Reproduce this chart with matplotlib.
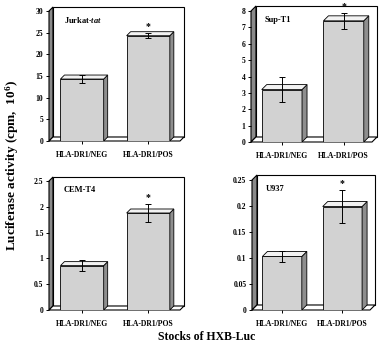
import numpy as np
import matplotlib
matplotlib.use("Agg")
import matplotlib.pyplot as plt
from matplotlib.patches import Polygon
from matplotlib.ticker import FormatStrFormatter

plt.rcParams['font.family'] = ['Liberation Serif', 'DejaVu Serif']
plt.rcParams['font.weight'] = 'bold'
plt.rcParams['mathtext.fontset'] = 'custom'
plt.rcParams['mathtext.rm'] = 'Liberation Serif:bold'
plt.rcParams['mathtext.it'] = 'Liberation Serif:italic:bold'
plt.rcParams['mathtext.bf'] = 'Liberation Serif:bold'

# data
categories = ['HLA-DR1/NEG', 'HLA-DR1/POS']
cell_lines = ['Jurkat-$\\mathit{tat}$', 'Sup-T1', 'CEM-T4', 'U937']
jurkat_vals = [14.3, 24.3]
jurkat_err = [0.9, 0.6]
supt1_vals = [3.2, 7.4]
supt1_err = [0.75, 0.5]
cemt4_vals = [0.86, 1.88]
cemt4_err = [0.11, 0.18]
u937_vals = [0.103, 0.199]
u937_err = [0.010, 0.032]
y_tops = [30, 8, 2.5, 0.25]
y_steps = [5, 1, 0.5, 0.05]

W, H = 391, 348
fig = plt.figure(figsize=(W / 100, H / 100), dpi=100)

# panel geometry in pixels: front-left x, back-right x, zero y, top y, top tick y, depth
panels = [
    (49, 184, 141, 6, 11, 4),
    (251, 377, 142, 6, 11, 5),
    (49, 184, 310, 177, 181, 4),
    (252, 375, 310, 176, 180, 5),
]
values = [jurkat_vals, supt1_vals, cemt4_vals, u937_vals]
errors = [jurkat_err, supt1_err, cemt4_err, u937_err]

centers = np.array([0.245, 0.735])
width = 0.32


def draw_panel(geom, vals, errs, ytop, ystep, name):
    L, R, Z, T, Yt, d = geom
    ax = fig.add_axes([L / W, (H - Z) / H, (R - L) / W, (Z - T) / H])
    ymax = ytop * (Z - T) / (Z - Yt)
    ax.set_xlim(0, 1)
    ax.set_ylim(0, ymax)
    dx = d / (R - L)
    dy = d * ytop / (Z - Yt)
    for s in ax.spines.values():
        s.set_visible(False)
    ax.set_facecolor('none')

    # left wall
    ax.add_patch(Polygon([(0, 0), (dx, dy), (dx, ytop + dy), (0, ytop)],
                         closed=True, facecolor='#8a8a8a', edgecolor='black',
                         lw=0.8, clip_on=False))
    # back wall
    ax.add_patch(Polygon([(dx, dy), (1, dy), (1, ytop + dy), (dx, ytop + dy)],
                         closed=True, facecolor='white', edgecolor='black',
                         lw=0.8, clip_on=False))
    # floor
    ax.add_patch(Polygon([(0, 0), (1 - dx, 0), (1, dy), (dx, dy)],
                         closed=True, facecolor='white', edgecolor='black',
                         lw=0.8, clip_on=False))

    lefts = centers - width / 2
    ax.bar(centers, vals, width, color='#d2d2d2', edgecolor='black', lw=0.6,
           zorder=3)
    for x0, v in zip(lefts, vals):
        ax.add_patch(Polygon([(x0 + width, 0), (x0 + width + dx, dy),
                              (x0 + width + dx, v + dy), (x0 + width, v)],
                             closed=True, facecolor='#8e8e8e',
                             edgecolor='black', lw=0.6, zorder=3))
        ax.add_patch(Polygon([(x0, v), (x0 + dx, v + dy),
                              (x0 + width + dx, v + dy), (x0 + width, v)],
                             closed=True, facecolor='#f2f2f2',
                             edgecolor='black', lw=0.6, zorder=3))
    ax.errorbar(centers, vals, yerr=errs, fmt='none', ecolor='black',
                elinewidth=0.7, capsize=2.5, capthick=0.7, zorder=4)
    ax.text(centers[1], vals[1] + errs[1] + ymax * 0.015, '*',
            ha='center', va='bottom', fontsize=7, zorder=5)

    ax.text(0.11, ytop * 0.93, name, fontsize=6, ha='left', va='center')

    ax.set_yticks(np.arange(0, ytop + ystep / 2, ystep))
    ax.yaxis.set_major_formatter(FormatStrFormatter('%g'))
    ax.set_xticks(centers)
    ax.set_xticklabels(categories)
    ax.tick_params(axis='y', length=2, width=0.7, pad=2, labelsize=5.5)
    ax.tick_params(axis='x', length=2, width=0.7, pad=5, labelsize=5.5)


for geom, vals, errs, ytop, ystep, name in zip(panels, values, errors,
                                               y_tops, y_steps, cell_lines):
    draw_panel(geom, vals, errs, ytop, ystep, name)

fig.text(12 / W, 1 - 166 / H, 'Luciferase activity (cpm,  10$^{6}$)',
         rotation=90, ha='center', va='center', fontsize=9.5)
fig.text(207 / W, 1 - 337 / H, 'Stocks of HXB-Luc', ha='center',
         va='center', fontsize=8.5)

fig.savefig('out.png', dpi=100)
